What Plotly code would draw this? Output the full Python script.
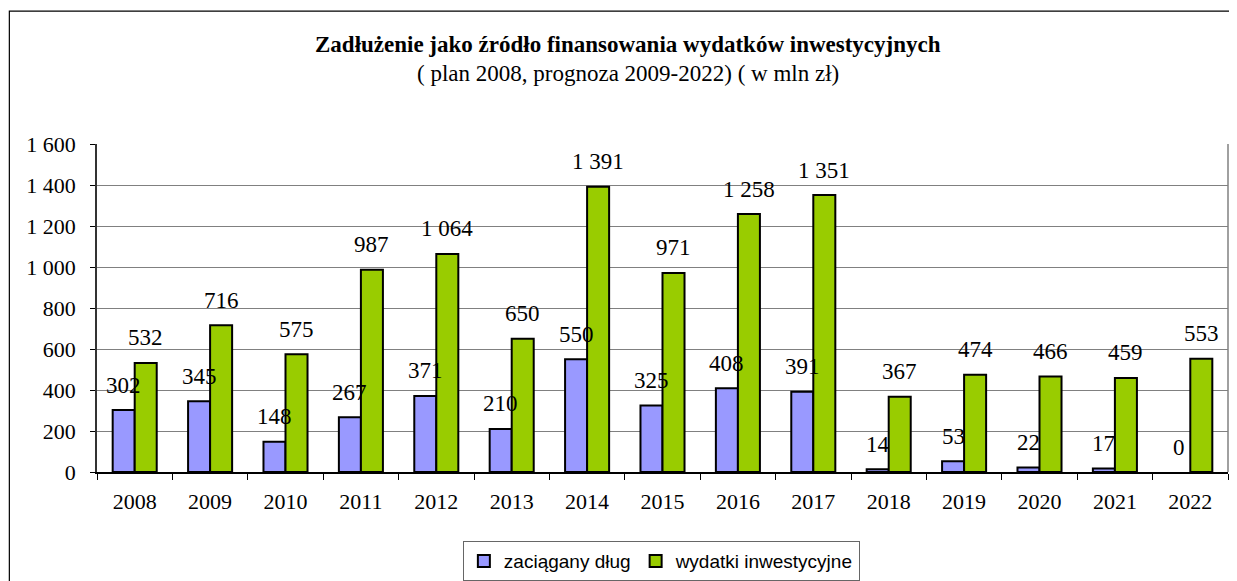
import plotly.graph_objects as go

# dane
lata = ["2008", "2009", "2010", "2011", "2012", "2013", "2014", "2015",
        "2016", "2017", "2018", "2019", "2020", "2021", "2022"]
dlug = [302, 345, 148, 267, 371, 210, 550, 325, 408, 391, 14, 53, 22, 17, 0]
wydatki = [532, 716, 575, 987, 1064, 650, 1391, 971, 1258, 1351, 367, 474, 466, 459, 553]
y_ticks = [0, 200, 400, 600, 800, 1000, 1200, 1400, 1600]

SERIF = "Liberation Serif, Times New Roman, serif"
SANS = "Liberation Sans, Arial, sans-serif"


def fmt(v):
    return f"{v:,}".replace(",", " ")


fig = go.Figure()

# słupek o wartości 0 bez obramowania (w oryginale go nie widać)
fig.add_trace(go.Bar(
    x=lata, y=dlug, name="zaciągany dług",
    marker=dict(color="#9999FF",
                line=dict(color="black", width=[0 if v == 0 else 2 for v in dlug])),
))
fig.add_trace(go.Bar(
    x=lata, y=wydatki, name="wydatki inwestycyjne",
    marker=dict(color="#99CC00", line=dict(color="black", width=2)),
))

# etykiety nad słupkami (x jako indeks kategorii, bo "2008" byłoby brane za indeks)
for serie, shift in ((dlug, -11), (wydatki, 11)):
    for i, v in enumerate(serie):
        fig.add_annotation(
            x=i, y=v, text=fmt(v), showarrow=False,
            xshift=shift, yshift=25, yanchor="middle",
            font=dict(family=SERIF, size=23, color="black"),
        )

# tytuł
fig.add_annotation(
    xref="paper", yref="paper", x=0.4695, y=1.302,
    text="<b>Zadłużenie jako źródło finansowania wydatków inwestycyjnych</b>",
    showarrow=False, yanchor="middle", font=dict(family=SERIF, size=23, color="black"),
)
fig.add_annotation(
    xref="paper", yref="paper", x=0.4695, y=1.216,
    text="( plan 2008, prognoza 2009-2022) ( w mln zł)",
    showarrow=False, yanchor="middle", font=dict(family=SERIF, size=23, color="black"),
)

# ramka wykresu i prawa krawędź obszaru
fig.add_shape(type="rect", xref="paper", yref="paper",
              x0=-0.0775, x1=1.03, y0=-0.36, y1=1.405,
              line=dict(color="black", width=1.2), layer="below")
fig.add_shape(type="line", xref="paper", yref="paper",
              x0=1, x1=1, y0=0, y1=1,
              line=dict(color="#808080", width=1.5))

# strona ma 8px marginesu body, więc figura jest o tyle mniejsza
fig.update_layout(
    width=1229, height=573,
    margin=dict(l=89, r=9, t=136, b=109, autoexpand=False),
    paper_bgcolor="white", plot_bgcolor="white",
    barmode="group", bargap=0.416, bargroupgap=0,
    showlegend=True,
    legend=dict(
        orientation="h", x=0.499, xanchor="center", y=-0.272, yanchor="middle",
        bordercolor="#666666", borderwidth=1, bgcolor="white",
        font=dict(family=SANS, size=19, color="black"),
        itemwidth=30, tracegroupgap=0,
    ),
    font=dict(family=SERIF, size=22, color="black"),
)
fig.update_xaxes(
    type="category", range=[-0.5, len(lata) - 0.5],
    showgrid=False, showline=True, linecolor="black", linewidth=1.5,
    ticks="outside", tickson="boundaries", ticklen=6, tickcolor="black",
    ticklabelstandoff=9,
    tickfont=dict(family=SERIF, size=22, color="black"),
)
fig.update_yaxes(
    range=[0, 1600], tickvals=y_ticks, ticktext=[fmt(t) for t in y_ticks],
    showgrid=True, gridcolor="#808080", gridwidth=1,
    showline=True, linecolor="#333333", linewidth=1.5, zeroline=False,
    ticks="outside", ticklen=5, tickcolor="black",
    ticklabelstandoff=10,
    tickfont=dict(family=SERIF, size=22, color="black"),
)

fig.write_html("out.html")
